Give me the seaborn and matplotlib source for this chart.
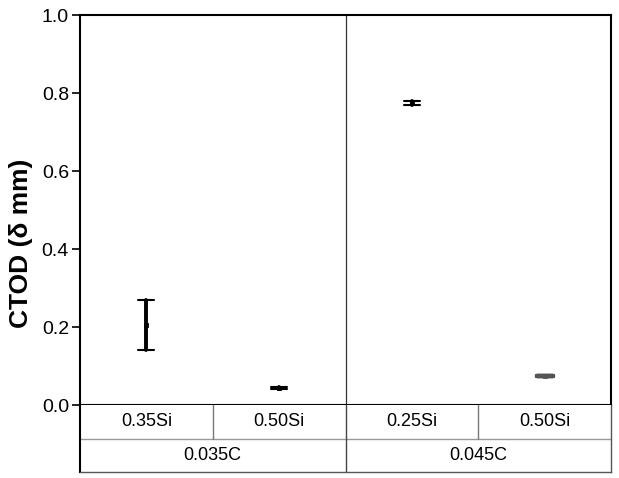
import matplotlib
matplotlib.use("Agg")
import matplotlib.pyplot as plt
import seaborn as sns
import pandas as pd
import numpy as np

# Data
si_labels = ["0.35Si", "0.50Si", "0.25Si", "0.50Si"]
c_labels = ["0.035C", "0.045C"]
groups = ["A", "B", "C", "D"]
ctod_low = [0.14, 0.040, 0.770, 0.075]
ctod_high = [0.27, 0.046, 0.780, 0.075]
bar_colors = ["#000000", "#000000", "#000000", "#555555"]

sns.set_style("white")
plt.rcParams["font.family"] = ["Liberation Sans", "DejaVu Sans"]
plt.rcParams["text.color"] = "black"

rows = []
for g, lo, hi in zip(groups, ctod_low, ctod_high):
    rows.append({"group": g, "ctod": lo})
    rows.append({"group": g, "ctod": hi})
df = pd.DataFrame(rows)
pal = dict(zip(groups, bar_colors))
rng = lambda v: (v.min(), v.max())

fig = plt.figure(figsize=(6.19, 4.78), dpi=100)
W, H = 619, 478
L, R, T, B, TB = 80, 611, 15, 405, 472
ax = fig.add_axes([L / W, 1 - B / H, (R - L) / W, (B - T) / H])
tax = fig.add_axes([L / W, 1 - TB / H, (R - L) / W, (TB - B) / H])

# caps (thin)
sns.pointplot(data=df, x="group", y="ctod", hue="group", order=groups,
              hue_order=groups, palette=pal, errorbar=rng, capsize=0.12,
              linestyle="none", marker="s", markersize=1.5,
              err_kws={"linewidth": 1.5}, legend=False, ax=ax)
for ln in ax.lines:
    if matplotlib.colors.to_hex(ln.get_color()) == "#555555":
        ln.set_linewidth(3.2)
# thick vertical range bars
sns.pointplot(data=df, x="group", y="ctod", hue="group", order=groups,
              hue_order=groups, palette=pal, errorbar=rng, capsize=0,
              linestyle="none", marker="", markersize=0,
              err_kws={"linewidth": 2.8}, legend=False, ax=ax)

ax.set_xlim(-0.5, 3.5)
ax.set_ylim(0, 1.0)
ax.set_yticks([0.0, 0.2, 0.4, 0.6, 0.8, 1.0])
ax.set_yticklabels([f"{v:.1f}" for v in [0.0, 0.2, 0.4, 0.6, 0.8, 1.0]])
ax.set_xticks([])
ax.set_xlabel("")
ax.set_ylabel("")
ax.tick_params(axis="y", direction="out", length=6, width=1.2, labelsize=14,
               left=True, pad=2, colors="black")
ax.axvline(1.5, color="#333333", linewidth=0.9)
for s in ax.spines.values():
    s.set_visible(True)
    s.set_color("black")
    s.set_linewidth(1.5)

fig.text(21 / W, 1 - 243 / H, "CTOD (δ mm)", rotation=90, ha="center",
         va="center", fontsize=19, fontweight="bold", color="black")

# Table below the axis
tax.set_xlim(-0.5, 3.5)
tax.set_ylim(0, 2)
tax.set_xticks([])
tax.set_yticks([])
for name, s in tax.spines.items():
    s.set_visible(name != "top")
    s.set_color("#555555" if name != "left" else "black")
    s.set_linewidth(1.0 if name != "left" else 1.5)
tax.axhline(1.0, color="#999999", linewidth=1.0)
tax.plot([0.5, 0.5], [1, 2], color="#777777", linewidth=1.0)
tax.plot([2.5, 2.5], [1, 2], color="#777777", linewidth=1.0)
tax.axvline(1.5, color="#444444", linewidth=1.0)
for i, lab in enumerate(si_labels):
    tax.text(i, 1.5, lab, ha="center", va="center", fontsize=13,
             color="black")
for i, lab in enumerate(c_labels):
    tax.text(0.5 + 2 * i, 0.5, lab, ha="center", va="center", fontsize=13,
             color="black")

fig.savefig("out.png", dpi=100)
